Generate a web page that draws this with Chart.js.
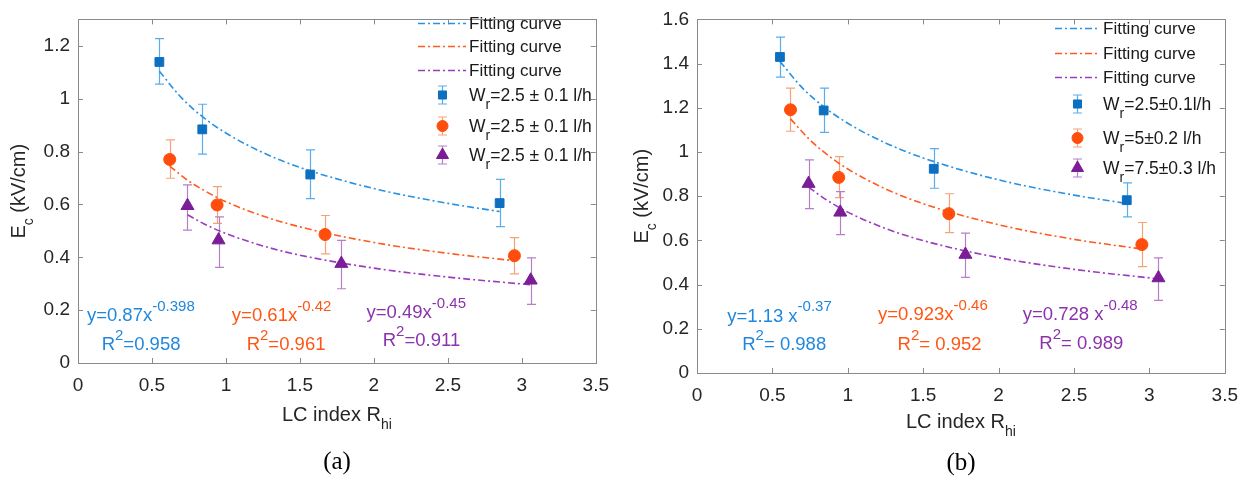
<!DOCTYPE html>
<html>
<head>
<meta charset="utf-8">
<script src="https://cdn.jsdelivr.net/npm/chart.js@4.4.1/dist/chart.umd.min.js"></script>
<style>
  html, body { margin: 0; padding: 0; background: #fff; }
  #wrap { position: relative; width: 1249px; height: 483px; overflow: hidden; }
  canvas { position: absolute; top: 0; }
  #cA { left: 0; }
  #cB { left: 620px; }
</style>
</head>
<body>
<div id="wrap">
  <canvas id="cA" width="620" height="483"></canvas>
  <canvas id="cB" width="629" height="483"></canvas>
</div>
<script>
/* ========= 1.  DATA  ================================================= */
// LC index R_hi of each measured point (same in both panels)
const rhiBlue   = [0.55, 0.84, 1.57, 2.85];
const rhiOrange = [0.62, 0.94, 1.67, 2.95];
const rhiPurple = [0.74, 0.95, 1.78, 3.06];

// panel (a): Ec (kV/cm), error bar top / bottom
const ecA_blue   = [1.139, 0.884, 0.713, 0.605];
const hiA_blue   = [1.227, 0.979, 0.806, 0.695];
const loA_blue   = [1.055, 0.790, 0.622, 0.516];
const ecA_orange = [0.770, 0.598, 0.486, 0.406];
const hiA_orange = [0.844, 0.667, 0.558, 0.474];
const loA_orange = [0.699, 0.528, 0.413, 0.337];
const ecA_purple = [0.595, 0.465, 0.376, 0.313];
const hiA_purple = [0.674, 0.553, 0.464, 0.398];
const loA_purple = [0.503, 0.362, 0.281, 0.222];

// panel (b)
const ecB_blue   = [1.430, 1.188, 0.924, 0.782];
const hiB_blue   = [1.520, 1.289, 1.015, 0.860];
const loB_blue   = [1.339, 1.089, 0.836, 0.706];
const ecB_orange = [1.191, 0.885, 0.721, 0.581];
const hiB_orange = [1.289, 0.979, 0.811, 0.681];
const loB_orange = [1.094, 0.794, 0.635, 0.481];
const ecB_purple = [0.857, 0.727, 0.536, 0.430];
const hiB_purple = [0.964, 0.821, 0.633, 0.521];
const loB_purple = [0.744, 0.626, 0.433, 0.329];

// fitting curves, points
const fitX_blue   = [0.55, 0.7, 0.85, 1.0, 1.25, 1.5, 2.0, 2.5, 2.85];
const fitX_orange = [0.62, 0.75, 0.9, 1.0, 1.25, 1.5, 2.0, 2.5, 2.95];
const fitX_purple = [0.74, 0.85, 1.0, 1.25, 1.5, 2.0, 2.5, 3.06];
const fitA_blue   = [1.104, 1.003, 0.928, 0.870, 0.796, 0.740, 0.660, 0.604, 0.573];
const fitA_orange = [0.745, 0.688, 0.638, 0.610, 0.556, 0.515, 0.456, 0.415, 0.387];
const fitA_purple = [0.561, 0.527, 0.490, 0.443, 0.408, 0.359, 0.325, 0.296];
const fitB_blue   = [1.410, 1.289, 1.200, 1.130, 1.041, 0.973, 0.874, 0.805, 0.767];
const fitB_orange = [1.150, 1.054, 0.969, 0.923, 0.833, 0.766, 0.671, 0.605, 0.561];
const fitB_purple = [0.841, 0.787, 0.728, 0.654, 0.599, 0.522, 0.469, 0.426];

// tick values / labels
const xTickVals   = [0, 0.5, 1, 1.5, 2, 2.5, 3, 3.5];
const xTickLabels = ['0', '0.5', '1', '1.5', '2', '2.5', '3', '3.5'];
const yTickValsA   = [0, 0.2, 0.4, 0.6, 0.8, 1, 1.2];
const yTickLabelsA = ['0', '0.2', '0.4', '0.6', '0.8', '1', '1.2'];
const yTickValsB   = [0, 0.2, 0.4, 0.6, 0.8, 1, 1.2, 1.4, 1.6];
const yTickLabelsB = ['0', '0.2', '0.4', '0.6', '0.8', '1', '1.2', '1.4', '1.6'];

// legend / annotation texts  ([text, '' | 'sub' | 'sup'])
const legendFitText = 'Fitting curve';
const legendA = [
  [['W', ''], ['r', 'sub'], ['=2.5 \u00b1 0.1 l/h', '']],
  [['W', ''], ['r', 'sub'], ['=2.5 \u00b1 0.1 l/h', '']],
  [['W', ''], ['r', 'sub'], ['=2.5 \u00b1 0.1 l/h', '']]
];
const legendB = [
  [['W', ''], ['r', 'sub'], ['=2.5\u00b10.1l/h', '']],
  [['W', ''], ['r', 'sub'], ['=5\u00b10.2 l/h', '']],
  [['W', ''], ['r', 'sub'], ['=7.5\u00b10.3 l/h', '']]
];
const eqA = [
  [['y=0.87x', ''], ['-0.398', 'sup']],
  [['y=0.61x', ''], ['-0.42', 'sup']],
  [['y=0.49x', ''], ['-0.45', 'sup']]
];
const r2A = [
  [['R', ''], ['2', 'sup'], ['=0.958', '']],
  [['R', ''], ['2', 'sup'], ['=0.961', '']],
  [['R', ''], ['2', 'sup'], ['=0.911', '']]
];
const eqB = [
  [['y=1.13 x', ''], ['-0.37', 'sup']],
  [['y=0.923x', ''], ['-0.46', 'sup']],
  [['y=0.728 x', ''], ['-0.48', 'sup']]
];
const r2B = [
  [['R', ''], ['2', 'sup'], ['= 0.988', '']],
  [['R', ''], ['2', 'sup'], ['= 0.952', '']],
  [['R', ''], ['2', 'sup'], ['= 0.989', '']]
];

/* ========= 2.  STYLE  ================================================ */
const FONT  = 'Arial, "Liberation Sans", Helvetica, sans-serif';
const SERIF = '"Times New Roman", "Liberation Serif", serif';
const AXIS_GRAY = '#8a8a8a';
const TEXT_DARK = '#262626';
const STYLE = [
  { mark: '#0d6fbf', err: '#5aaded', curve: '#2792e4', text: '#1f88de', shape: 'rect',     r: 6.2 },
  { mark: '#ff4d0d', err: '#f7a276', curve: '#ff5a1f', text: '#ff5614', shape: 'circle',   r: 6 },
  { mark: '#7a1d96', err: '#b67ecb', curve: '#9a3cbc', text: '#8b32ac', shape: 'triangle', r: 7.5 }
];

/* ========= 3.  TEXT HELPERS  ========================================= */
function partSize (size, mode, ratio) { return mode ? Math.round(size * (ratio || 0.72)) : size; }

function richWidth (ctx, parts, size, ratio) {
  let w = 0;
  for (const [t, m] of parts) { ctx.font = partSize(size, m, ratio) + 'px ' + FONT; w += ctx.measureText(t).width; }
  return w;
}
function drawRich (ctx, parts, x, y, size, color, subDy, ratio) {     // y = baseline
  ctx.fillStyle = color;
  ctx.textAlign = 'left';
  ctx.textBaseline = 'alphabetic';
  let cx = x;
  for (const [t, m] of parts) {
    ctx.font = partSize(size, m, ratio) + 'px ' + FONT;
    const dy = m === 'sub' ? size * (subDy || 0.38) : m === 'sup' ? -size * 0.55 : 0;
    ctx.fillText(t, cx, y + dy);
    cx += ctx.measureText(t).width;
  }
}

/* ========= 4.  PANEL PLUGIN (error bars, box, titles, legend) ========= */
function panelPlugin (p) {
  return {
    id: 'panelDecor_' + p.canvas,
    beforeDatasetsDraw (chart) {
      const ctx = chart.ctx, xs = chart.scales.x, ys = chart.scales.y;
      ctx.save();
      ctx.lineWidth = 1.2;
      p.series.forEach((s, i) => {
        ctx.strokeStyle = STYLE[i].err;
        s.x.forEach((xv, k) => {
          const px = Math.round(xs.getPixelForValue(xv)) + 0.5;
          const t = ys.getPixelForValue(s.hi[k]);
          const b = ys.getPixelForValue(s.lo[k]);
          ctx.beginPath();
          ctx.moveTo(px, t); ctx.lineTo(px, b);
          ctx.moveTo(px - 4.5, t); ctx.lineTo(px + 4.5, t);
          ctx.moveTo(px - 4.5, b); ctx.lineTo(px + 4.5, b);
          ctx.stroke();
        });
      });
      ctx.restore();
    },
    afterDraw (chart) {
      const ctx = chart.ctx, xs = chart.scales.x, ys = chart.scales.y;
      const a = chart.chartArea;
      ctx.save();

      /* --- box + inward ticks on all four sides --- */
      ctx.strokeStyle = AXIS_GRAY;
      ctx.lineWidth = 1;
      ctx.strokeRect(Math.round(a.left) + 0.5, Math.round(a.top) + 0.5,
                     Math.round(a.right - a.left), Math.round(a.bottom - a.top));
      ctx.beginPath();
      xTickVals.forEach(v => {
        const px = Math.round(xs.getPixelForValue(v)) + 0.5;
        ctx.moveTo(px, a.bottom); ctx.lineTo(px, a.bottom - 5);
        ctx.moveTo(px, a.top);    ctx.lineTo(px, a.top + 5);
      });
      p.yTickVals.forEach(v => {
        const py = Math.round(ys.getPixelForValue(v)) + 0.5;
        ctx.moveTo(a.left, py);  ctx.lineTo(a.left + 5, py);
        ctx.moveTo(a.right, py); ctx.lineTo(a.right - 5, py);
      });
      ctx.stroke();

      /* --- axis titles --- */
      const xt = [['LC index R', ''], ['hi', 'sub']];
      const xw = richWidth(ctx, xt, 20);
      drawRich(ctx, xt, (a.left + a.right) / 2 - xw / 2, p.xTitleY + 7, 20, TEXT_DARK, 0.42);

      const yt = [['E', ''], ['c', 'sub'], [' (kV/cm)', '']];
      const yw = richWidth(ctx, yt, 20);
      ctx.save();
      ctx.translate(p.yTitleX, (a.top + a.bottom) / 2);
      ctx.rotate(-Math.PI / 2);
      drawRich(ctx, yt, -yw / 2, 7, 20, TEXT_DARK, 0.42);
      ctx.restore();

      /* --- fit equations --- */
      p.notes.forEach((n, i) => {
        const c = STYLE[i].text;
        drawRich(ctx, n.eq, xs.getPixelForValue(n.eqAt[0]), ys.getPixelForValue(n.eqAt[1]) + 6.5, 18.5, c, 0, 0.82);
        drawRich(ctx, n.r2, xs.getPixelForValue(n.r2At[0]), ys.getPixelForValue(n.r2At[1]) + 6.5, 18.5, c, 0, 0.82);
      });

      /* --- legend --- */
      const L = p.legend;
      ctx.lineWidth = 1.5;
      for (let i = 0; i < 3; i++) {
        const y = L.rows[i];
        ctx.strokeStyle = STYLE[i].curve;
        ctx.setLineDash([7, 3, 2, 3]);
        ctx.beginPath(); ctx.moveTo(L.lineX0, y + 0.5); ctx.lineTo(L.lineX1, y + 0.5); ctx.stroke();
        ctx.setLineDash([]);
        ctx.fillStyle = '#1a1a1a';
        ctx.font = '17px ' + FONT;
        ctx.textBaseline = 'middle';
        ctx.fillText(legendFitText, L.textX, y + 1);
      }
      for (let i = 0; i < 3; i++) {
        const y = L.rows[i + 3];
        const st = STYLE[i];
        ctx.strokeStyle = st.err;
        ctx.lineWidth = 1.2;
        ctx.beginPath();
        ctx.moveTo(L.markX + 0.5, y - 9); ctx.lineTo(L.markX + 0.5, y + 9);
        ctx.moveTo(L.markX - 4, y - 9);   ctx.lineTo(L.markX + 5, y - 9);
        ctx.moveTo(L.markX - 4, y + 9);   ctx.lineTo(L.markX + 5, y + 9);
        ctx.stroke();
        ctx.fillStyle = st.mark; ctx.strokeStyle = st.mark; ctx.lineWidth = 1;
        Chart.helpers.drawPoint(ctx, { pointStyle: st.shape, radius: st.r - 0.5, rotation: 0, borderWidth: 1 },
                                L.markX + 0.5, y);
        drawRich(ctx, p.legendTexts[i], L.textX, y + 6, 17.5, '#1a1a1a', 0.45, 0.8);
      }

      /* --- panel label --- */
      ctx.fillStyle = '#000';
      ctx.font = '25px ' + SERIF;
      ctx.textAlign = 'center';
      ctx.textBaseline = 'middle';
      ctx.fillText(p.label, p.labelX, p.labelY);
      ctx.restore();
    }
  };
}

/* ========= 5.  CHART FACTORY  ======================================== */
function makePanel (p) {
  const canvas = document.getElementById(p.canvas);
  const W = canvas.width, H = canvas.height;
  const datasets = [];

  p.curves.forEach((c, i) => datasets.push({
    type: 'scatter',
    data: c.x.map((x, k) => ({ x, y: c.y[k] })),
    showLine: true, pointRadius: 0, pointHoverRadius: 0,
    borderColor: STYLE[i].curve, borderWidth: 1.6,
    borderDash: [7, 3, 2, 3], cubicInterpolationMode: 'monotone',
    order: 2
  }));
  p.series.forEach((s, i) => datasets.push({
    type: 'scatter',
    data: s.x.map((x, k) => ({ x, y: s.y[k] })),
    pointStyle: STYLE[i].shape, pointRadius: STYLE[i].r, pointHoverRadius: STYLE[i].r,
    backgroundColor: STYLE[i].mark, borderColor: STYLE[i].mark, borderWidth: 1,
    clip: false, order: 1
  }));

  return new Chart(canvas, {
    type: 'scatter',
    data: { datasets },
    options: {
      responsive: false,
      animation: false,
      devicePixelRatio: 1,
      layout: { padding: { left: 0, top: p.box.top, right: W - p.box.right, bottom: 0 } },
      plugins: { legend: { display: false }, tooltip: { enabled: false } },
      events: [],
      scales: {
        x: {
          type: 'linear', min: 0, max: 3.5,
          grid: { display: false, drawTicks: false }, border: { display: false },
          afterBuildTicks: s => { s.ticks = xTickVals.map(v => ({ value: v })); },
          afterFit: s => { s.height = H - p.box.bottom; },
          ticks: {
            padding: 11, color: TEXT_DARK, font: { family: FONT, size: 19 },
            maxRotation: 0, autoSkip: false,
            callback: v => xTickLabels[xTickVals.indexOf(v)]
          }
        },
        y: {
          type: 'linear', min: 0, max: p.yMax,
          grid: { display: false, drawTicks: false }, border: { display: false },
          afterBuildTicks: s => { s.ticks = p.yTickVals.map(v => ({ value: v })); },
          afterFit: s => { s.width = p.box.left; },
          ticks: {
            padding: 8, color: TEXT_DARK, font: { family: FONT, size: 19 },
            autoSkip: false,
            callback: v => p.yTickLabels[p.yTickVals.indexOf(v)]
          }
        }
      }
    },
    plugins: [panelPlugin(p)]
  });
}

/* ========= 6.  PANELS  =============================================== */
makePanel({
  canvas: 'cA', yMax: 1.3, yTickVals: yTickValsA, yTickLabels: yTickLabelsA,
  box: { left: 78, top: 7, right: 604, bottom: 363 },
  series: [
    { x: rhiBlue,   y: ecA_blue,   hi: hiA_blue,   lo: loA_blue },
    { x: rhiOrange, y: ecA_orange, hi: hiA_orange, lo: loA_orange },
    { x: rhiPurple, y: ecA_purple, hi: hiA_purple, lo: loA_purple }
  ],
  curves: [
    { x: fitX_blue, y: fitA_blue }, { x: fitX_orange, y: fitA_orange }, { x: fitX_purple, y: fitA_purple }
  ],
  notes: [
    { eq: eqA[0], r2: r2A[0], eqAt: [0.06, 0.183], r2At: [0.16, 0.073] },
    { eq: eqA[1], r2: r2A[1], eqAt: [1.04, 0.183], r2At: [1.14, 0.073] },
    { eq: eqA[2], r2: r2A[2], eqAt: [1.95, 0.194], r2At: [2.06, 0.088] }
  ],
  legend: { lineX0: 418, lineX1: 466, textX: 469, markX: 442, rows: [23, 46, 70, 95, 126, 155] },
  legendTexts: legendA,
  xTitleY: 414, yTitleX: 18,
  label: '(a)', labelX: 337, labelY: 462
});

makePanel({
  canvas: 'cB', yMax: 1.6, yTickVals: yTickValsB, yTickLabels: yTickLabelsB,
  box: { left: 77, top: 13, right: 607, bottom: 373 },
  series: [
    { x: rhiBlue,   y: ecB_blue,   hi: hiB_blue,   lo: loB_blue },
    { x: rhiOrange, y: ecB_orange, hi: hiB_orange, lo: loB_orange },
    { x: rhiPurple, y: ecB_purple, hi: hiB_purple, lo: loB_purple }
  ],
  curves: [
    { x: fitX_blue, y: fitB_blue }, { x: fitX_orange, y: fitB_orange }, { x: fitX_purple, y: fitB_purple }
  ],
  notes: [
    { eq: eqB[0], r2: r2B[0], eqAt: [0.20, 0.262], r2At: [0.30, 0.133] },
    { eq: eqB[1], r2: r2B[1], eqAt: [1.20, 0.267], r2At: [1.33, 0.133] },
    { eq: eqB[2], r2: r2B[2], eqAt: [2.16, 0.267], r2At: [2.27, 0.138] }
  ],
  legend: { lineX0: 435, lineX1: 479, textX: 483, markX: 457, rows: [28, 53, 77, 104, 138, 168] },
  legendTexts: legendB,
  xTitleY: 421, yTitleX: 21,
  label: '(b)', labelX: 341, labelY: 463
});
</script>
</body>
</html>
